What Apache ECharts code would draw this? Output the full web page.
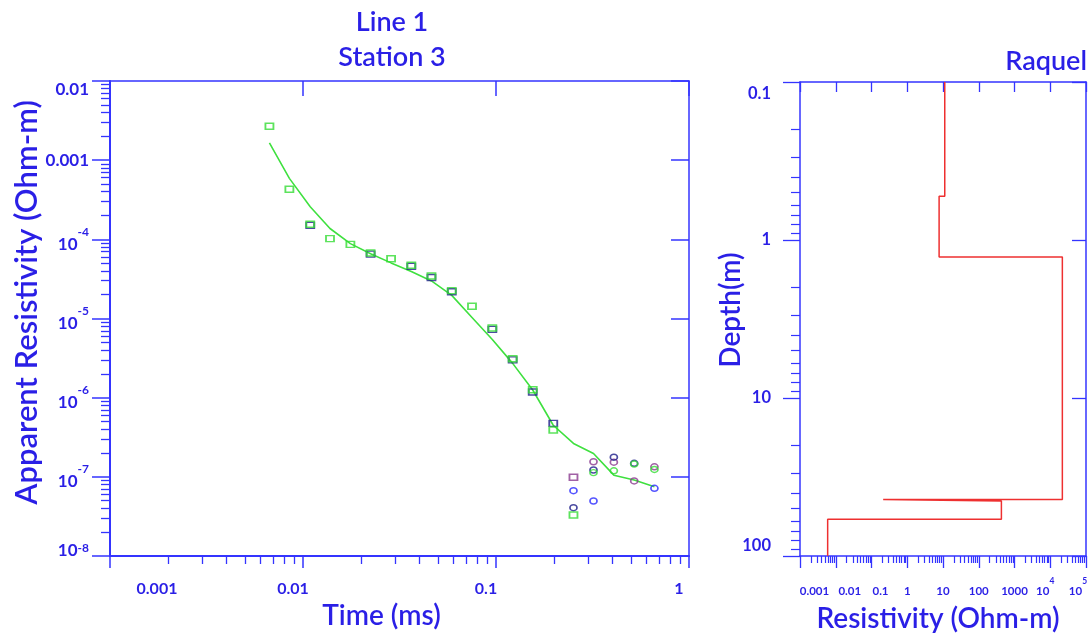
<!DOCTYPE html>
<html>
<head>
<meta charset="utf-8">
<script src="https://cdn.jsdelivr.net/npm/echarts@6/dist/echarts.min.js"></script>
<style>
  html, body { margin: 0; padding: 0; background: #ffffff; }
  #chart { width: 1092px; height: 635px; }
</style>
</head>
<body>
<div id="chart"></div>
<script>
// TEM sounding, Line 1 / Station 3: apparent-resistivity decay and the layered model (Raquel)

// gate times (ms)
const gateTimes = [0.0067, 0.0085, 0.0109, 0.0138, 0.0176, 0.0224, 0.0286, 0.0364, 0.0463, 0.0590,
                   0.0751, 0.0957, 0.122, 0.155, 0.198, 0.252, 0.320, 0.408, 0.520, 0.662];

// apparent resistivity (Ohm-m); "Pos" = positive reading (square), "Neg" = sign reversal (circle)
const rhoGreenPos  = [2.68e-3, 4.29e-4, 1.55e-4, 1.02e-4, 8.65e-5, 6.72e-5, 5.69e-5, 4.70e-5, 3.44e-5, 2.25e-5,
                      1.43e-5, 7.59e-6, 3.10e-6, 1.26e-6, 3.91e-7, 3.30e-8, null, null, null, null];
const rhoGreenNeg  = [null, null, null, null, null, null, null, null, null, null,
                      null, null, null, null, null, null, 1.13e-7, 1.19e-7, 1.45e-7, 1.24e-7];
const rhoNavyPos   = [null, null, 1.50e-4, null, null, 6.50e-5, null, 4.55e-5, 3.30e-5, 2.18e-5,
                      null, 7.30e-6, 3.00e-6, 1.18e-6, 4.74e-7, null, null, null, null, null];
const rhoNavyNeg   = [null, null, null, null, null, null, null, null, null, null,
                      null, null, null, null, null, 4.08e-8, 1.22e-7, 1.77e-7, 1.48e-7, null];
const rhoBlueNeg   = [null, null, null, null, null, null, null, null, null, null,
                      null, null, null, null, null, 6.68e-8, 4.95e-8, null, null, 7.17e-8];
const rhoPurplePos = [null, null, null, null, null, null, null, null, null, null,
                      null, null, null, null, null, 9.87e-8, null, null, null, null];
const rhoPurpleNeg = [null, null, null, null, null, null, null, null, null, null,
                      null, null, null, null, null, null, 1.55e-7, 1.53e-7, 8.87e-8, 1.34e-7];

// forward response of the model
const rhoModel = [1.65e-3, 5.89e-4, 2.58e-4, 1.37e-4, 8.83e-5, 6.59e-5, 5.04e-5, 3.93e-5, 2.98e-5, 1.96e-5,
                  1.03e-5, 5.43e-6, 2.71e-6, 1.25e-6, 4.48e-7, 2.64e-7, 1.97e-7, 1.05e-7, 9.1e-8, 7.5e-8];

// layered model: resistivity of each layer (Ohm-m) and depth to its base (m); last layer is the half-space
const layerRho    = [11.2, 7.78, 21800, 0.212, 430, 0.00594];
const layerBottom = [0.528, 1.28, 43.9, 44.8, 58.5];
const depthRange  = [0.1, 100];

// tick labels
const timeTickLabels  = ['0.001', '0.01', '0.1', '1'];                                   // 1e-3 .. 1e0
const rhoaTickLabels  = ['10^-8', '10^-7', '10^-6', '10^-5', '10^-4', '0.001', '0.01'];  // 1e-8 .. 1e-2
const depthTickLabels = ['0.1', '1', '10', '100'];                                       // 1e-1 .. 1e2
const resTickLabels   = ['0.001', '0.01', '0.1', '1', '10', '100', '1000', '10^4', '10^5']; // 1e-3 .. 1e5

const AXIS = '#3434ff';
const TEXT = '#2a1fe6';
const FONT = 'Lato';
const TW = 'bold';     // tick-label weight
const NW = '600';      // title / axis-name weight

function pairs(ys) {
  const out = [];
  ys.forEach((v, i) => { if (v != null) out.push([gateTimes[i], v]); });
  return out;
}

function stepProfile() {
  const pts = [[layerRho[0], depthRange[0]]];
  layerBottom.forEach((d, i) => {
    pts.push([layerRho[i], d]);
    pts.push([layerRho[i + 1], d]);
  });
  pts.push([layerRho[layerRho.length - 1], depthRange[1]]);
  return pts;
}

// 2..9 subdivisions of each decade, as log10 positions
function minorLogs(e0, e1) {
  const out = [];
  for (let e = e0; e < e1; e++) {
    for (let k = 2; k <= 9; k++) out.push(Math.log10(k) + e);
  }
  return out;
}

// index of a decade tick within its label list
function decadeIndex(v, firstExp) {
  return Math.round(Math.log10(v)) - firstExp;
}
// plain label -> {p|text}; power label "10^e" -> {pB|10}{pS|e}
function richText(s, p) {
  if (s.indexOf('^') >= 0) {
    const parts = s.split('^');
    return '{' + p + 'B|' + parts[0] + '}{' + p + 'S|' + parts[1] + '}';
  }
  return '{' + p + '|' + s + '}';
}
function tok(size, extra) {
  return Object.assign({ fontFamily: FONT, fontSize: size, fontWeight: TW, color: TEXT }, extra || {});
}

const chart = echarts.init(document.getElementById('chart'), null, { renderer: 'canvas' });

const tickStyle = (w) => ({ color: AXIS, width: w });
const noLabel = { show: false };
const nameStyle = (size, pad) => ({ fontFamily: FONT, fontSize: size, fontWeight: NW, color: TEXT, padding: pad || 0 });

// resistivity tick-label styles (small font, "10^n" drawn with a raised exponent)
const resRich = {
  first: tok(11.5, { lineHeight: 20, verticalAlign: 'bottom', padding: [0, 0, 0, 29] }),
  r1: tok(11.5, { lineHeight: 20, verticalAlign: 'bottom', padding: [0, 0, 0, 28] }),
  r2: tok(11.5, { lineHeight: 20, verticalAlign: 'bottom', padding: [0, 0, 0, 18] }),
  n: tok(11.5, { lineHeight: 20, verticalAlign: 'bottom' }),
  nB: tok(11.5, { lineHeight: 20, verticalAlign: 'bottom' }),
  nS: tok(8.5, { lineHeight: 20, verticalAlign: 'top', padding: [0, 10, 0, 0] }),
  lastB: tok(11.5, { lineHeight: 20, verticalAlign: 'bottom' }),
  lastS: tok(8.5, { lineHeight: 20, verticalAlign: 'top', padding: [0, 16, 0, 0] })
};

const option = {
  animation: false,
  backgroundColor: '#ffffff',
  textStyle: { fontFamily: FONT },
  title: [
    { text: 'Line 1', left: 392, top: 9, textAlign: 'center', padding: 0, textStyle: nameStyle(27) },
    { text: 'Station 3', left: 392, top: 44, textAlign: 'center', padding: 0, textStyle: nameStyle(27) },
    { text: 'Raquel', right: 5, top: 48, padding: 0, textStyle: nameStyle(27) }
  ],
  grid: [
    { left: 110, top: 81, width: 579, height: 475, containLabel: false, outerBoundsMode: 'none' },
    { left: 800, top: 82, width: 286, height: 474, containLabel: false, outerBoundsMode: 'none' }
  ],
  xAxis: [
    // decay curve: time axis
    {
      gridIndex: 0, type: 'log', logBase: 10, min: 0.001, max: 1, interval: 1, position: 'bottom',
      axisLine: { onZero: false, lineStyle: { color: AXIS, width: 2 } },
      axisTick: { length: 12, lineStyle: tickStyle(1.5) },
      splitLine: { show: false },
      axisLabel: {
        margin: 25, color: TEXT, fontFamily: FONT, fontSize: 16, fontWeight: TW,
        showMinLabel: true, showMaxLabel: true,
        formatter: (v) => {
          const i = decadeIndex(v, -3);
          return richText(timeTickLabels[i], i === 0 ? 'first' : 'n');
        },
        rich: {
          first: tok(16, { padding: [0, 0, 0, 94] }),
          n: tok(16, { padding: [0, 20, 0, 0] })
        }
      },
      name: 'Time (ms)', nameLocation: 'middle', nameGap: 46, nameMoveOverlap: false,
      nameTextStyle: nameStyle(28, [0, 36, 0, 0])
    },
    {
      gridIndex: 0, type: 'value', min: -3, max: 0, position: 'bottom',
      axisLine: { show: false, onZero: false },
      axisTick: { length: 8, lineStyle: tickStyle(1.3), customValues: minorLogs(-3, 0) },
      axisLabel: noLabel, splitLine: { show: false }
    },
    {
      gridIndex: 0, type: 'log', logBase: 10, min: 0.001, max: 1, interval: 1, position: 'top',
      axisLine: { onZero: false, lineStyle: { color: AXIS, width: 1.5 } },
      axisTick: { inside: true, length: 15, lineStyle: tickStyle(1.5) },
      axisLabel: noLabel, splitLine: { show: false }
    },
    // layered model: resistivity axis (decades 0.01 .. 1e5 labelled here)
    {
      gridIndex: 1, type: 'log', logBase: 10, min: 0.001, max: 100000, interval: 1, position: 'bottom',
      axisLine: { onZero: false, lineStyle: { color: AXIS, width: 1.5 } },
      axisTick: { length: 12, lineStyle: tickStyle(1.3) },
      splitLine: { show: false },
      axisLabel: {
        margin: 21, color: TEXT, fontFamily: FONT, fontSize: 11.5, fontWeight: TW,
        showMinLabel: false, showMaxLabel: true,
        formatter: (v) => {
          const i = decadeIndex(v, -3);
          const p = i === 1 ? 'r1' : i === 2 ? 'r2' : (i === resTickLabels.length - 1 ? 'last' : 'n');
          return richText(resTickLabels[i], p);
        },
        rich: resRich
      },
      name: 'Resistivity (Ohm-m)', nameLocation: 'middle', nameGap: 49, nameMoveOverlap: false,
      nameTextStyle: nameStyle(28, [0, 10, 0, 0])
    },
    {
      gridIndex: 1, type: 'value', min: -3, max: 5, position: 'bottom',
      axisLine: { show: false, onZero: false },
      axisTick: { length: 7, lineStyle: tickStyle(1.2), customValues: minorLogs(-3, 5) },
      axisLabel: noLabel, splitLine: { show: false }
    },
    {
      gridIndex: 1, type: 'log', logBase: 10, min: 0.001, max: 100000, interval: 1, position: 'top',
      axisLine: { onZero: false, lineStyle: { color: AXIS, width: 1.5 } },
      axisTick: { inside: true, length: 10, lineStyle: tickStyle(1.3) },
      axisLabel: noLabel, splitLine: { show: false }
    },
    // resistivity axis: the lowest decade (0.001) tick and label
    {
      gridIndex: 1, type: 'value', min: -3, max: 5, position: 'bottom',
      axisLine: { show: false, onZero: false },
      axisTick: { length: 12, lineStyle: tickStyle(1.3), customValues: [-3] },
      axisLabel: {
        margin: 21, customValues: [-3], showMinLabel: true,
        formatter: (v) => richText(resTickLabels[Math.round(v) + 3], 'first'),
        rich: resRich
      },
      splitLine: { show: false }
    }
  ],
  yAxis: [
    // decay curve: apparent resistivity
    {
      gridIndex: 0, type: 'log', logBase: 10, min: 1e-8, max: 0.01, interval: 1, position: 'left',
      axisLine: { onZero: false, lineStyle: { color: AXIS, width: 2 } },
      axisTick: { length: 18, lineStyle: tickStyle(1.5) },
      splitLine: { show: false },
      axisLabel: {
        margin: 21, color: TEXT, fontFamily: FONT, fontSize: 17, fontWeight: TW,
        showMinLabel: true, showMaxLabel: true,
        formatter: (v) => {
          const i = decadeIndex(v, -8);
          const p = i === 0 ? 'mn' : (i === rhoaTickLabels.length - 1 ? 'mx' : 'n');
          return richText(rhoaTickLabels[i], p);
        },
        rich: {
          mx: tok(17, { padding: [18, 0, 0, 0] }),
          n: tok(17),
          nB: tok(17, { verticalAlign: 'bottom', lineHeight: 27 }),
          nS: tok(12, { verticalAlign: 'top', lineHeight: 27 }),
          mnB: tok(17, { verticalAlign: 'bottom', lineHeight: 27, padding: [0, 0, 10, 0] }),
          mnS: tok(12, { verticalAlign: 'top', lineHeight: 27 })
        }
      },
      name: 'Apparent Resistivity (Ohm-m)', nameLocation: 'middle', nameGap: 68, nameRotate: 90,
      nameMoveOverlap: false, nameTextStyle: nameStyle(31, [0, 0, 0, 32])
    },
    {
      gridIndex: 0, type: 'value', min: -8, max: -2, position: 'left',
      axisLine: { show: false, onZero: false },
      axisTick: { length: 9, lineStyle: tickStyle(1.3), customValues: minorLogs(-8, -2) },
      axisLabel: noLabel, splitLine: { show: false }
    },
    {
      gridIndex: 0, type: 'log', logBase: 10, min: 1e-8, max: 0.01, interval: 1, position: 'right',
      axisLine: { onZero: false, lineStyle: { color: AXIS, width: 1.5 } },
      axisTick: { inside: true, length: 18, lineStyle: tickStyle(1.5) },
      axisLabel: noLabel, splitLine: { show: false }
    },
    // layered model: depth
    {
      gridIndex: 1, type: 'log', logBase: 10, min: depthRange[0], max: depthRange[1], interval: 1,
      inverse: true, position: 'left',
      axisLine: { onZero: false, lineStyle: { color: AXIS, width: 1.5 } },
      axisTick: { length: 17, lineStyle: tickStyle(1.3) },
      splitLine: { show: false },
      axisLabel: {
        margin: 29, color: TEXT, fontFamily: FONT, fontSize: 16.5, fontWeight: TW,
        showMinLabel: true, showMaxLabel: true,
        formatter: (v) => {
          const i = decadeIndex(v, -1);
          const p = i === 0 ? 'first' : (i === depthTickLabels.length - 1 ? 'last' : 'n');
          return richText(depthTickLabels[i], p);
        },
        rich: {
          first: tok(16.5, { padding: [24, 0, 0, 0] }),
          last: tok(16.5, { padding: [0, 0, 20, 0] }),
          n: tok(16.5)
        }
      },
      name: 'Depth(m)', nameLocation: 'middle', nameGap: 55, nameRotate: 90,
      nameMoveOverlap: false, nameTextStyle: nameStyle(28, [0, 0, 0, 18])
    },
    {
      gridIndex: 1, type: 'value', min: -1, max: 2, inverse: true, position: 'left',
      axisLine: { show: false, onZero: false },
      axisTick: { length: 9, lineStyle: tickStyle(1.2), customValues: minorLogs(-1, 2) },
      axisLabel: noLabel, splitLine: { show: false }
    },
    {
      gridIndex: 1, type: 'log', logBase: 10, min: depthRange[0], max: depthRange[1], interval: 1,
      inverse: true, position: 'right',
      axisLine: { onZero: false, lineStyle: { color: AXIS, width: 1.5 } },
      axisTick: { inside: true, length: 14, lineStyle: tickStyle(1.3) },
      axisLabel: noLabel, splitLine: { show: false }
    }
  ],
  series: [
    {
      name: 'Model response', type: 'line', xAxisIndex: 0, yAxisIndex: 0,
      data: pairs(rhoModel), showSymbol: false, symbol: 'none', z: 2,
      lineStyle: { color: '#3fe03f', width: 1.6 }
    },
    {
      name: 'Purple (+)', type: 'scatter', xAxisIndex: 0, yAxisIndex: 0, data: pairs(rhoPurplePos),
      symbol: 'rect', symbolSize: [8, 6], z: 3,
      itemStyle: { color: 'rgba(0,0,0,0)', borderColor: '#8a3a8e', borderWidth: 1.6 }
    },
    {
      name: 'Purple (-)', type: 'scatter', xAxisIndex: 0, yAxisIndex: 0, data: pairs(rhoPurpleNeg),
      symbol: 'circle', symbolSize: [7, 6], z: 3,
      itemStyle: { color: 'rgba(0,0,0,0)', borderColor: '#8a3a8e', borderWidth: 1.6 }
    },
    {
      name: 'Blue (-)', type: 'scatter', xAxisIndex: 0, yAxisIndex: 0, data: pairs(rhoBlueNeg),
      symbol: 'circle', symbolSize: [7, 6], z: 3,
      itemStyle: { color: 'rgba(0,0,0,0)', borderColor: '#2a2aff', borderWidth: 1.6 }
    },
    {
      name: 'Navy (+)', type: 'scatter', xAxisIndex: 0, yAxisIndex: 0, data: pairs(rhoNavyPos),
      symbol: 'rect', symbolSize: [8, 6], z: 3,
      itemStyle: { color: 'rgba(0,0,0,0)', borderColor: '#1e1e8a', borderWidth: 1.6 }
    },
    {
      name: 'Navy (-)', type: 'scatter', xAxisIndex: 0, yAxisIndex: 0, data: pairs(rhoNavyNeg),
      symbol: 'circle', symbolSize: [7, 6], z: 3,
      itemStyle: { color: 'rgba(0,0,0,0)', borderColor: '#1e1e8a', borderWidth: 1.6 }
    },
    {
      name: 'Green (+)', type: 'scatter', xAxisIndex: 0, yAxisIndex: 0, data: pairs(rhoGreenPos),
      symbol: 'rect', symbolSize: [8, 6], z: 4,
      itemStyle: { color: 'rgba(0,0,0,0)', borderColor: '#35dc35', borderWidth: 1.6 }
    },
    {
      name: 'Green (-)', type: 'scatter', xAxisIndex: 0, yAxisIndex: 0, data: pairs(rhoGreenNeg),
      symbol: 'circle', symbolSize: [7, 6], z: 4,
      itemStyle: { color: 'rgba(0,0,0,0)', borderColor: '#35dc35', borderWidth: 1.6 }
    },
    {
      name: 'Layered model', type: 'line', xAxisIndex: 3, yAxisIndex: 3,
      data: stepProfile(), showSymbol: false, symbol: 'none',
      lineStyle: { color: '#ee3030', width: 1.5 }
    }
  ]
};

chart.setOption(option);
</script>
</body>
</html>
